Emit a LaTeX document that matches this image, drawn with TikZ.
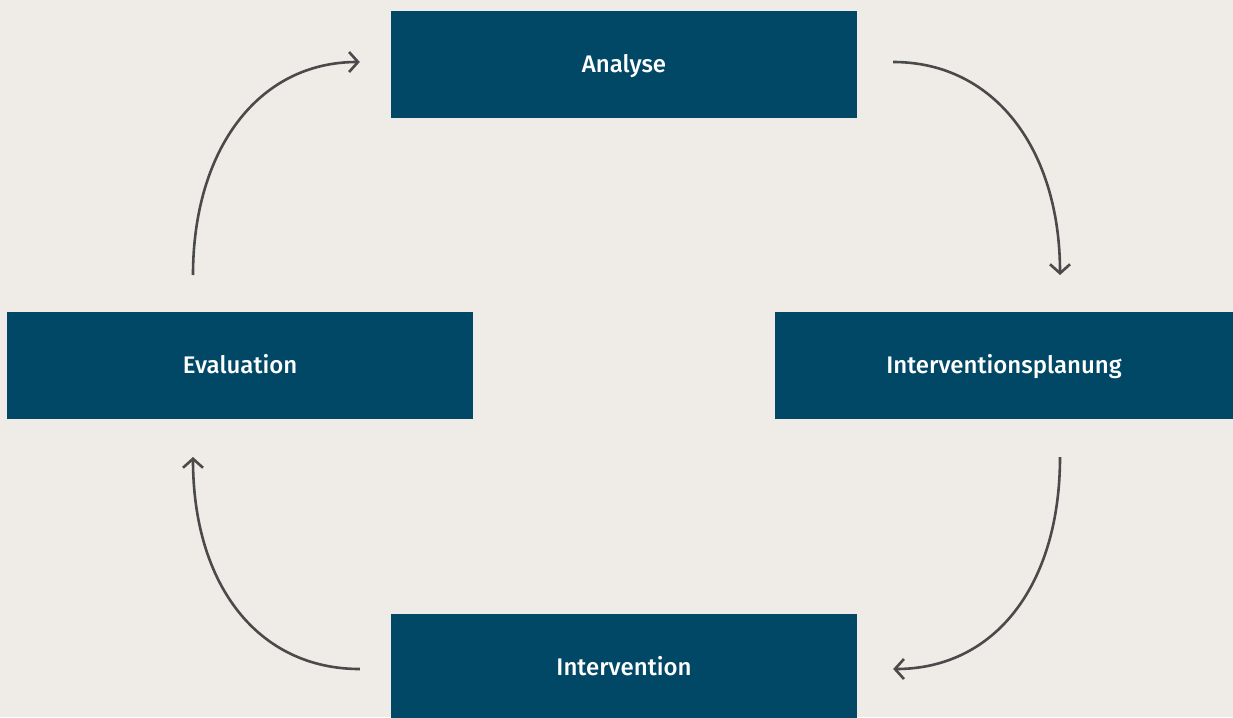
\documentclass[tikz,border=0pt]{standalone}
\usepackage{fontspec}
\setmainfont{Fira Sans Medium}
\usetikzlibrary{arrows.meta}
\definecolor{bg}{HTML}{EFECE7}
\definecolor{boxc}{HTML}{004866}
\definecolor{arr}{HTML}{4A4A4A}
\tikzset{
  stage/.style={rectangle, fill=boxc, text=white, inner sep=0pt,
    minimum height=107pt, text height=16.5pt, text depth=0pt,
    font=\fontsize{24}{28}\selectfont},
  flow/.style={draw=arr, line width=2.6pt,
    -{Straight Barb[length=9pt,width=20pt,line width=2.6pt]}}
}
\begin{document}
\begin{tikzpicture}[x=1pt,y=-1pt]
\fill[bg] (0,0) rectangle (1233,717);
\useasboundingbox (0,0) rectangle (1233,717);
\clip (0,0) rectangle (1233,717);
\node[stage, minimum width=466pt] (ana) at (624,64.5) {Analyse};
\node[stage, minimum width=466pt] (eva) at (240,365.5) {Evaluation};
\node[stage, minimum width=458pt] (pla) at (1004,365.5) {Interventionsplanung};
\node[stage, minimum width=466pt] (int) at (624,667.5) {Intervention};
% connector ends
\coordinate (a1) at ([xshift=36pt]ana.east |- 0,62);
\coordinate (p1) at (1060,275);
\coordinate (p2) at (1060,457);
\coordinate (i1) at ([xshift=36pt]int.east |- 0,669);
\coordinate (i2) at ([xshift=-31pt]int.west |- 0,669);
\coordinate (e1) at (193,457);
\coordinate (e2) at (193,275);
\coordinate (a2) at ([xshift=-31pt]ana.west |- 0,62);
\draw[flow] (a1) .. controls (995,62) and (1060,150) .. (p1);
\draw[flow] (p2) .. controls (1060,585) and (995,669) .. (i1);
\draw[flow] (i2) .. controls (258,669) and (193,585) .. (e1);
\draw[flow] (e2) .. controls (193,150) and (258,62) .. (a2);
\end{tikzpicture}
\end{document}
